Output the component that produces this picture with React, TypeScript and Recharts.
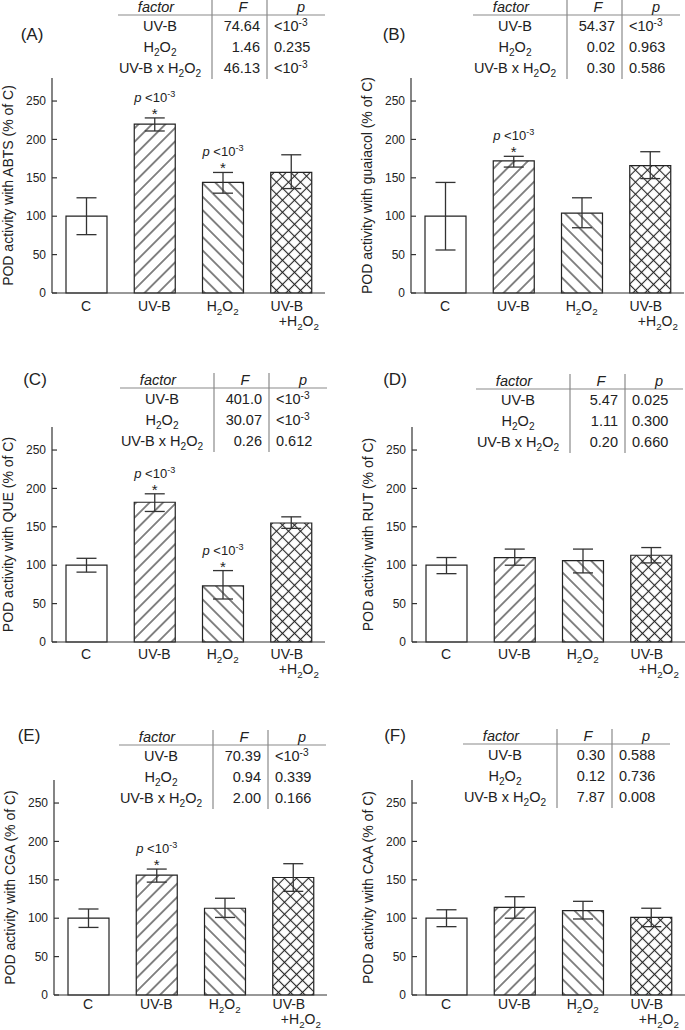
import { BarChart, Bar, XAxis, YAxis, ErrorBar, Cell } from "recharts";

const CATEGORIES = ["C", "UV-B", "H2O2", "UV-B+H2O2"];
const FILLS = ["#ffffff", "url(#hatchFwd)", "url(#hatchBack)", "url(#hatchCross)"];
const Y_TICKS = [0, 50, 100, 150, 200, 250];
const FACTORS = ["UV-B", "H2O2", "UV-B x H2O2"];

// bar means (% of C) and error bars as [minus, plus]
const VALUES_A = [100, 220, 144, 157];
const ERRORS_A = [[24, 24], [9, 8], [14, 13], [21, 23]];
const VALUES_B = [100, 172, 104, 166];
const ERRORS_B = [[44, 44], [8, 6], [19, 20], [17, 18]];
const VALUES_C = [100, 182, 73, 155];
const ERRORS_C = [[9, 9], [12, 11], [17, 20], [7, 8]];
const VALUES_D = [100, 110, 106, 113];
const ERRORS_D = [[11, 10], [10, 11], [16, 15], [10, 10]];
const VALUES_E = [100, 156, 113, 153];
const ERRORS_E = [[12, 12], [9, 8], [12, 13], [18, 18]];
const VALUES_F = [100, 114, 110, 101];
const ERRORS_F = [[11, 11], [14, 14], [11, 12], [12, 12]];

// which bars carry "p <10-3 *"
const SIG_A = [1, 2];
const SIG_B = [1];
const SIG_C = [1, 2];
const SIG_D: number[] = [];
const SIG_E = [1];
const SIG_F: number[] = [];

// two-way ANOVA tables
const F_A = ["74.64", "1.46", "46.13"];
const P_A = ["<10^-3", "0.235", "<10^-3"];
const F_B = ["54.37", "0.02", "0.30"];
const P_B = ["<10^-3", "0.963", "0.586"];
const F_C = ["401.0", "30.07", "0.26"];
const P_C = ["<10^-3", "<10^-3", "0.612"];
const F_D = ["5.47", "1.11", "0.20"];
const P_D = ["0.025", "0.300", "0.660"];
const F_E = ["70.39", "0.94", "2.00"];
const P_E = ["<10^-3", "0.339", "0.166"];
const F_F = ["0.30", "0.12", "7.87"];
const P_F = ["0.588", "0.736", "0.008"];

const FONT = '"Liberation Sans", Arial, Helvetica, sans-serif';
const INK = "#222";
const PLOT_W = 273;
const PLOT_H = 215;
const AXIS_W = 52;
const TOP_M = 10;

const PANELS = [
  { tag: "(A)", tagX: 32, tagY: 34, axisX: 52, plotTop: 78, line1: 18, line2: 33, ylabel: "POD activity with ABTS (% of C)", values: VALUES_A, errors: ERRORS_A, sig: SIG_A, F: F_A, p: P_A, tLeft: 118, tLine: 15 },
  { tag: "(B)", tagX: 394, tagY: 34, axisX: 411, plotTop: 78, line1: 18, line2: 33, ylabel: "POD activity with guaiacol (% of C)", values: VALUES_B, errors: ERRORS_B, sig: SIG_B, F: F_B, p: P_B, tLeft: 473, tLine: 15 },
  { tag: "(C)", tagX: 35, tagY: 379, axisX: 52, plotTop: 427, line1: 17, line2: 32, ylabel: "POD activity with QUE (% of C)", values: VALUES_C, errors: ERRORS_C, sig: SIG_C, F: F_C, p: P_C, tLeft: 120, tLine: 388 },
  { tag: "(D)", tagX: 395, tagY: 379, axisX: 412, plotTop: 427, line1: 17, line2: 32, ylabel: "POD activity with RUT (% of C)", values: VALUES_D, errors: ERRORS_D, sig: SIG_D, F: F_D, p: P_D, tLeft: 476, tLine: 389 },
  { tag: "(E)", tagX: 29, tagY: 735, axisX: 54, plotTop: 780, line1: 14, line2: 29, ylabel: "POD activity with CGA (% of C)", values: VALUES_E, errors: ERRORS_E, sig: SIG_E, F: F_E, p: P_E, tLeft: 119, tLine: 745 },
  { tag: "(F)", tagX: 395, tagY: 735, axisX: 412, plotTop: 780, line1: 14, line2: 29, ylabel: "POD activity with CAA (% of C)", values: VALUES_F, errors: ERRORS_F, sig: SIG_F, F: F_F, p: P_F, tLeft: 463, tLine: 744 },
];

// H2O2 -> subscripts, ^-3 -> superscript
function Rich({ s }: { s: string }) {
  const out: any[] = [];
  let shift = 0;
  const push = (t: string, target: number, small = false) => {
    out.push(
      <tspan key={out.length} dy={target - shift} fontSize={small ? "0.7em" : undefined}>
        {t}
      </tspan>
    );
    shift = target;
  };
  s.split(/(H2O2|\^-3)/).forEach((part) => {
    if (!part) return;
    if (part === "H2O2") {
      push("H", 0);
      push("2", 4, true);
      push("O", 0);
      push("2", 4, true);
    } else if (part === "^-3") {
      push("-3", -5, true);
    } else {
      push(part, 0);
    }
  });
  return <>{out}</>;
}

function CatTick({ x, y, payload, line1, line2 }: any) {
  const v = payload.value as string;
  if (v === "UV-B+H2O2") {
    return (
      <g fill={INK} fontSize={14} fontFamily={FONT}>
        <text x={x - 4} y={y + line1} textAnchor="middle">UV-B</text>
        <text x={x + 8} y={y + line2} textAnchor="middle">
          <Rich s="+H2O2" />
        </text>
      </g>
    );
  }
  return (
    <text x={x} y={y + line1} textAnchor="middle" fill={INK} fontSize={14} fontFamily={FONT}>
      <Rich s={v} />
    </text>
  );
}

function AnovaTable({ left, line, F, p }: any) {
  const c1 = left + 94;
  const c2 = c1 + 55;
  const right = left + 207;
  const rows = [line + 16, line + 37, line + 58];
  return (
    <g fontFamily={FONT} fontSize={14.5} fill={INK}>
      <line x1={left} x2={right} y1={line} y2={line} stroke="#8a8a8a" strokeWidth={1.2} />
      <line x1={c1} x2={c1} y1={line - 15} y2={line + 64} stroke="#8a8a8a" strokeWidth={1.2} />
      <line x1={c2} x2={c2} y1={line - 15} y2={line + 64} stroke="#8a8a8a" strokeWidth={1.2} />
      <text x={left + 38} y={line - 3} textAnchor="middle" fontStyle="italic">factor</text>
      <text x={c1 + 31} y={line - 3} textAnchor="middle" fontStyle="italic">F</text>
      <text x={c2 + 34} y={line - 3} textAnchor="middle" fontStyle="italic">p</text>
      {FACTORS.map((f, i) => (
        <text key={f} x={left + 42} y={rows[i]} textAnchor="middle">
          <Rich s={f} />
        </text>
      ))}
      {F.map((v: string, i: number) => (
        <text key={"f" + i} x={c1 + 48} y={rows[i]} textAnchor="end">{v}</text>
      ))}
      {p.map((v: string, i: number) => (
        <text key={"p" + i} x={c2 + 7} y={rows[i]}>
          <Rich s={v} />
        </text>
      ))}
    </g>
  );
}

function Panel({ cfg }: any) {
  const data = CATEGORIES.map((name, i) => ({
    name,
    value: cfg.values[i],
    err: cfg.errors[i],
  }));

  const sigLabel = (props: any) => {
    const { x, y, width, height, value, index } = props;
    if (!cfg.sig.includes(index)) return null;
    const cx = x + width / 2;
    const errTop = y - (cfg.errors[index][1] * height) / value;
    return (
      <g fill={INK} fontFamily={FONT}>
        <text x={cx} y={errTop - 16} textAnchor="middle" fontSize={13}>
          <tspan fontStyle="italic">p</tspan>
          <tspan> &lt;10</tspan>
          <tspan dy={-5} fontSize="0.7em">-3</tspan>
        </text>
        <text x={cx} y={errTop + 1} textAnchor="middle" fontSize={15}>*</text>
      </g>
    );
  };

  return (
    <div style={{ position: "absolute", left: cfg.axisX - AXIS_W, top: cfg.plotTop - TOP_M }}>
      <BarChart
        width={AXIS_W + PLOT_W + 1}
        height={TOP_M + PLOT_H + 45}
        data={data}
        margin={{ top: TOP_M, right: 1, bottom: 0, left: 0 }}
      >
        <XAxis
          dataKey="name"
          interval={0}
          tickLine={false}
          tickSize={0}
          tickMargin={0}
          height={45}
          stroke="#333"
          strokeWidth={1.2}
          tick={<CatTick line1={cfg.line1} line2={cfg.line2} />}
        />
        <YAxis
          domain={[0, 280]}
          ticks={Y_TICKS}
          width={AXIS_W}
          stroke="#333"
          strokeWidth={1.2}
          tickSize={-5}
          tickMargin={11}
          tick={{ fill: INK, fontSize: 12, fontFamily: FONT }}
          label={{
            value: cfg.ylabel,
            angle: -90,
            position: "center",
            dx: -18,
            fill: INK,
            fontSize: 14,
            fontFamily: FONT,
          }}
        />
        <Bar
          dataKey="value"
          barSize={41}
          stroke={INK}
          strokeWidth={1.2}
          isAnimationActive={false}
          label={sigLabel}
        >
          {data.map((d, i) => (
            <Cell key={d.name} fill={FILLS[i]} />
          ))}
          <ErrorBar dataKey="err" width={10} stroke="#333" strokeWidth={1.3} isAnimationActive={false} />
        </Bar>
      </BarChart>
    </div>
  );
}

export default function App() {
  return (
    <div
      style={{
        position: "absolute",
        left: 0,
        top: 0,
        width: 685,
        height: 1030,
        background: "#fff",
        overflow: "hidden",
        fontFamily: FONT,
      }}
    >
      <svg width={0} height={0} style={{ position: "absolute" }}>
        <defs>
          <pattern id="hatchFwd" patternUnits="userSpaceOnUse" width={9.5} height={9.5} patternTransform="rotate(45)">
            <rect width={9.5} height={9.5} fill="#fff" />
            <line x1={4.75} y1={0} x2={4.75} y2={9.5} stroke={INK} strokeWidth={1.1} />
          </pattern>
          <pattern id="hatchBack" patternUnits="userSpaceOnUse" width={9.5} height={9.5} patternTransform="rotate(-45)">
            <rect width={9.5} height={9.5} fill="#fff" />
            <line x1={4.75} y1={0} x2={4.75} y2={9.5} stroke={INK} strokeWidth={1.1} />
          </pattern>
          <pattern id="hatchCross" patternUnits="userSpaceOnUse" width={8.5} height={8.5} patternTransform="rotate(45)">
            <rect width={8.5} height={8.5} fill="#fff" />
            <line x1={4.25} y1={0} x2={4.25} y2={8.5} stroke={INK} strokeWidth={1.1} />
            <line x1={0} y1={4.25} x2={8.5} y2={4.25} stroke={INK} strokeWidth={1.1} />
          </pattern>
        </defs>
      </svg>
      {PANELS.map((cfg) => (
        <Panel key={cfg.tag} cfg={cfg} />
      ))}
      <svg width={685} height={1030} style={{ position: "absolute", left: 0, top: 0, pointerEvents: "none" }}>
        {PANELS.map((cfg) => (
          <g key={cfg.tag}>
            <text x={cfg.tagX} y={cfg.tagY + 6} textAnchor="middle" fontSize={17} fill={INK} fontFamily={FONT}>
              {cfg.tag}
            </text>
            <AnovaTable left={cfg.tLeft} line={cfg.tLine} F={cfg.F} p={cfg.p} />
          </g>
        ))}
      </svg>
    </div>
  );
}
